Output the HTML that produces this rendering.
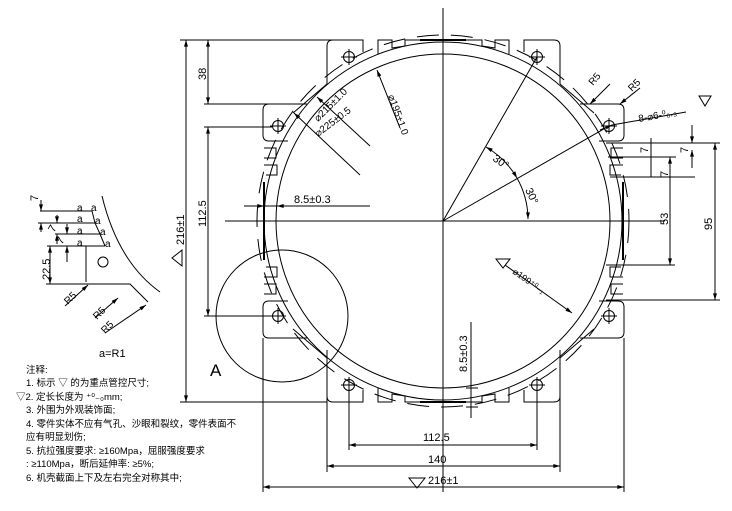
<!DOCTYPE html>
<html><head><meta charset="utf-8"><style>
html,body{margin:0;padding:0;background:#fff;}
svg{display:block;}
text{font-family:"Liberation Sans","Noto Sans CJK SC",sans-serif;fill:#000;}
.cn{font-family:"Liberation Serif","Noto Serif CJK SC","Noto Sans CJK SC",serif;font-size:9.5px;}
</style></head><body>
<svg width="732" height="511" viewBox="0 0 732 511" xmlns="http://www.w3.org/2000/svg">
<defs>
<marker id="ar" viewBox="0 0 10 6" refX="10" refY="3" markerWidth="8" markerHeight="4" orient="auto-start-reverse"><path d="M0,0 L10,3 L0,6z" fill="#000"/></marker>
<g id="hole"><circle r="5.5" fill="none" stroke="#000"/><path d="M-8,0H8M0,-8V8" stroke="#000"/></g>
<g id="quad" fill="none" stroke="#000" stroke-width="1">
  <path d="M327,84 L327,46 Q327,40 333,40 L363,40 L363,52"/>
  <path d="M327,84 L293,113"/>
  <path d="M307,104 L269,104 Q263,104 263,110 L263,135 Q263,141 269,141 L288,141"/>
  <path d="M378,54 L378,40 L392,40 L392,48 L405,46 L405,40 L430,40"/>
  <path d="M264,148 L276,148 L276,158 L264,158 M264,165 L277,165 L277,175 L266,175"/>
  <path d="M264,182 L264,221" stroke-width="2"/>
</g>
</defs>
<g fill="none" stroke="#000" stroke-width="1">
<path d="M443,8 V492 M225,221 H665"/>
<circle cx="443" cy="221" r="167"/>
<circle cx="443" cy="221" r="179"/>
<circle cx="443" cy="221" r="186" stroke-dasharray="22,12"/>
<line x1="420" y1="40" x2="466" y2="40" stroke-width="2"/>
<line x1="420" y1="402" x2="466" y2="402" stroke-width="2"/>
</g>
<use href="#quad"/>
<use href="#quad" transform="matrix(-1 0 0 1 887 0)"/>
<use href="#quad" transform="matrix(1 0 0 -1 0 442)"/>
<use href="#quad" transform="matrix(-1 0 0 -1 887 442)"/>
<use href="#hole" x="349" y="57"/><use href="#hole" x="537" y="57"/>
<use href="#hole" x="278" y="126"/><use href="#hole" x="609" y="126"/>
<use href="#hole" x="278" y="316"/><use href="#hole" x="609" y="316"/>
<use href="#hole" x="349" y="385"/><use href="#hole" x="537" y="385"/>
<g fill="none" stroke="#000" stroke-width="1">
<circle cx="282" cy="316" r="66"/>
<path d="M443,221 L537,57 M443,221 L609,126"/>
<path d="M486,147 A85,85 0 0 1 517,178" marker-start="url(#ar)" marker-end="url(#ar)"/>
<path d="M517,178 A85,85 0 0 1 528,219" marker-end="url(#ar)"/>
<path d="M377,70 L400,128" marker-start="url(#ar)"/>
<path d="M317,97 L370,146" marker-start="url(#ar)"/>
<path d="M294,113 L360,175" marker-start="url(#ar)"/>
<path d="M505,265 L572,313" marker-end="url(#ar)"/>
<path d="M610,84 L590,104" marker-end="url(#ar)"/>
<path d="M640,88 L620,104" marker-end="url(#ar)"/>
<path d="M612,125 L686,112" />
<path d="M600,130 L612,125" marker-end="url(#ar)"/>
<path d="M186,40 V402" marker-start="url(#ar)" marker-end="url(#ar)"/>
<path d="M180,40 H363 M180,402 H327"/>
<path d="M208,40 V104" marker-start="url(#ar)" marker-end="url(#ar)"/>
<path d="M204,104 H307 M204,127 H272 M204,316 H272"/>
<path d="M208,127 V316" marker-start="url(#ar)" marker-end="url(#ar)"/>
<path d="M244,206 H370"/>
<path d="M246,206 L264,206" marker-end="url(#ar)"/>
<path d="M290,206 L277,206" marker-end="url(#ar)"/>
<path d="M471,322 V418 M466,388 H478 M466,407 H478"/>
<path d="M263,338 V492 M327,350 V472 M560,350 V472 M624,338 V492 M349,385 V450 M537,385 V450"/>
<path d="M349,445 H537" marker-start="url(#ar)" marker-end="url(#ar)"/>
<path d="M327,466 H560" marker-start="url(#ar)" marker-end="url(#ar)"/>
<path d="M263,487 H624" marker-start="url(#ar)" marker-end="url(#ar)"/>
<path d="M606,143 H720 M608,157 H676 M610,177 H695 M606,265 H675 M606,300 H720"/>
<path d="M715,143 V300" marker-start="url(#ar)" marker-end="url(#ar)"/>
<path d="M670,157 V265" marker-start="url(#ar)" marker-end="url(#ar)"/>
<path d="M651,138 V177" />
<path d="M692,125 V143" marker-end="url(#ar)"/>
<path d="M692,168 V150" marker-end="url(#ar)"/>
<path d="M40,211 H92 M38,223 H95 M55,234 H100 M47,246 H105 M46,284 H130 L148,302 M86,246 V282"/>
<path d="M92,211 L95,223 L100,234 L105,246"/>
<path d="M102,196 Q118,262 160,292"/>
<circle cx="103" cy="262" r="5"/>
<path d="M41,200 V211" marker-end="url(#ar)"/><path d="M41,232 V223" marker-end="url(#ar)"/>
<path d="M57,215 V223" marker-end="url(#ar)"/><path d="M57,244 V234" marker-end="url(#ar)"/>
<path d="M67,224 V234" marker-end="url(#ar)"/><path d="M67,262 V246" marker-end="url(#ar)"/>
<path d="M50,246 V284" marker-start="url(#ar)" marker-end="url(#ar)"/>
<path d="M65,306 L88,285" marker-end="url(#ar)"/>
<path d="M95,318 L118,298" marker-end="url(#ar)"/>
<path d="M105,333 L146,305" marker-end="url(#ar)"/>
<path d="M409,478 L425,478 L417,488Z M699,96 L711,96 L705,106Z M496,259 L510,259 L503,268Z M182,250 L182,266 L172,258Z"/>
</g>
<g font-size="11">
<text transform="translate(206,80) rotate(-90)">38</text>
<text transform="translate(184,245) rotate(-90)">216±1</text>
<text transform="translate(206,227) rotate(-90)">112.5</text>
<text x="294" y="203">8.5±0.3</text>
<text transform="translate(467,372) rotate(-90)">8.5±0.3</text>
<text x="423" y="441">112.5</text>
<text x="428" y="463">140</text>
<text x="428" y="484">216±1</text>
<text transform="translate(712,230) rotate(-90)">95</text>
<text transform="translate(668,225) rotate(-90)">53</text>
<text transform="translate(648,153) rotate(-90)">7</text>
<text transform="translate(668,177) rotate(-90)">7</text>
<text transform="translate(688,153) rotate(-90)">7</text>
<text transform="translate(492,160) rotate(35)">30°</text>
<text transform="translate(525,190) rotate(65)">30°</text>
<text transform="translate(512,273) rotate(35)" font-size="9">⌀199⁺⁰₋₁</text>
<text transform="translate(388,96) rotate(70)" font-size="10">⌀195±1.0</text>
<text transform="translate(318,122) rotate(-45)" font-size="10">⌀215±1.0</text>
<text transform="translate(318,137) rotate(-37)" font-size="10">⌀225±0.5</text>
<text transform="translate(593,86) rotate(-50)" font-size="10">R5</text>
<text transform="translate(632,92) rotate(-45)" font-size="10">R5</text>
<text transform="translate(639,122) rotate(-10)" font-size="10">8-⌀6-⁰₀.₃</text>
<text x="210" y="376" font-family="Liberation Serif" font-size="17">A</text>
<text transform="translate(38,201) rotate(-90)">7</text>
<text transform="translate(54,233) rotate(-60)">7</text>
<text transform="translate(62,245) rotate(-60)">7</text>
<text transform="translate(50,280) rotate(-90)">22.5</text>
<text transform="translate(68,305) rotate(-45)" font-size="10">R5</text>
<text transform="translate(97,320) rotate(-45)" font-size="10">R5</text>
<text transform="translate(105,334) rotate(-45)" font-size="10">R5</text>
</g>
<g font-family="Liberation Serif" font-size="10">
<text x="77" y="211">a</text><text x="91" y="211">a</text>
<text x="77" y="222">a</text><text x="95" y="224">a</text>
<text x="77" y="234">a</text><text x="100" y="235">a</text>
<text x="77" y="246">a</text><text x="105" y="247">a</text>
<text x="99" y="357" font-size="11">a=R1</text>
</g>
<g class="cn">
<text x="26" y="373">注释:</text>
<text x="26" y="386">1. 标示 ▽ 的为重点管控尺寸;</text>
<text x="16" y="400">▽2. 定长长度为 ⁺⁰₋₀mm;</text>
<text x="26" y="413">3. 外围为外观装饰面;</text>
<text x="26" y="427">4. 零件实体不应有气孔、沙眼和裂纹，零件表面不</text>
<text x="26" y="440">应有明显划伤;</text>
<text x="26" y="454">5. 抗拉强度要求: ≥160Mpa，屈服强度要求</text>
<text x="26" y="467">: ≥110Mpa，断后延伸率: ≥5%;</text>
<text x="26" y="481">6. 机壳截面上下及左右完全对称其中;</text>
</g>
</svg>
</body></html>
